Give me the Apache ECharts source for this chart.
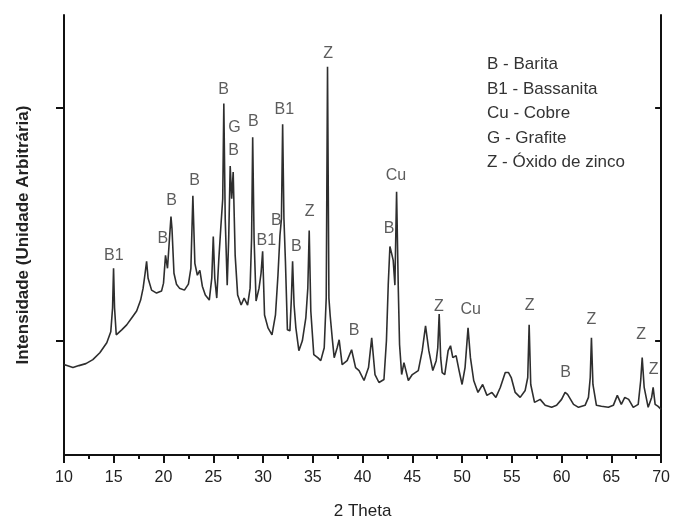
<!DOCTYPE html>
<html>
<head>
	<meta charset="UTF-8">
	<title>DRX</title>
	<script src="https://cdn.jsdelivr.net/npm/echarts@6/dist/echarts.min.js"></script>
	<style>
		html, body { margin: 0; padding: 0; background: #fff; }
	</style>
</head>
<body>
	<div id="chart1" style="width: 673px;height: 525px;"></div>
</body>
</html>
<script type="text/javascript">
	// 2 Theta and intensity (arbitrary units)
	var theta = [
		10.0, 10.3, 10.9, 11.5, 12.2, 12.9, 13.6, 14.3, 14.7, 14.88, 14.98, 15.08, 15.25, 15.8, 16.3, 16.8, 17.3, 17.7, 17.95, 18.15,
		18.3, 18.45, 18.8, 19.3, 19.8, 20.0, 20.2, 20.4, 20.6, 20.75, 20.85, 21.05, 21.3, 21.6, 22.1, 22.5, 22.75, 22.95, 23.15, 23.4,
		23.65, 23.9, 24.2, 24.6, 24.85, 25.0, 25.15, 25.35, 25.55, 25.75, 25.95, 26.06, 26.2, 26.4, 26.55, 26.7, 26.85, 27.0, 27.2, 27.45,
		27.8, 28.1, 28.45, 28.7, 28.85, 28.96, 29.1, 29.3, 29.6, 29.8, 29.96, 30.15, 30.5, 30.9, 31.25, 31.5, 31.7, 31.85, 31.97, 32.1,
		32.25, 32.45, 32.7, 32.85, 32.97, 33.12, 33.3, 33.6, 33.95, 34.3, 34.5, 34.64, 34.8, 35.1, 35.5, 35.8, 36.15, 36.35, 36.48, 36.62,
		36.75, 36.95, 37.15, 37.45, 37.65, 37.95, 38.45, 38.9, 39.3, 39.65, 40.15, 40.6, 40.92, 41.25, 41.65, 42.15, 42.4, 42.58, 42.75, 42.92,
		43.08, 43.25, 43.42, 43.59, 43.72, 43.93, 44.16, 44.6, 45.0, 45.6, 46.0, 46.33, 46.66, 47.06, 47.4, 47.56, 47.7, 47.85, 48.0, 48.26,
		48.6, 48.84, 49.07, 49.4, 49.7, 50.0, 50.3, 50.6, 50.84, 51.17, 51.6, 52.07, 52.5, 53.0, 53.4, 53.84, 54.34, 54.67, 54.94, 55.34,
		55.84, 56.34, 56.6, 56.74, 56.9, 57.28, 57.85, 58.35, 59.0, 59.5, 60.0, 60.35, 60.6, 61.2, 61.7, 62.36, 62.7, 62.88, 63.0, 63.15,
		63.5, 64.0, 64.7, 65.2, 65.6, 66.0, 66.35, 66.74, 67.2, 67.7, 67.95, 68.1, 68.3, 68.7, 69.05, 69.2, 69.4, 69.7, 70.0
	];
	var intensidade = [
		91, 90, 88, 90, 92, 96, 103, 113, 124, 148, 188, 148, 121, 126, 131, 138, 145, 156, 168, 183,
		195, 178, 166, 163, 165, 173, 201, 188, 218, 240, 228, 183, 172, 168, 166, 172, 188, 261, 193, 181,
		186, 170, 161, 156, 178, 220, 178, 158, 196, 228, 258, 354, 238, 171, 218, 291, 258, 285, 201, 161,
		151, 158, 151, 168, 218, 320, 218, 155, 168, 183, 205, 141, 128, 121, 141, 181, 221, 238, 333, 238,
		195, 126, 125, 158, 195, 151, 128, 105, 115, 138, 168, 226, 145, 101, 98, 95, 108, 158, 391, 158,
		140, 118, 98, 108, 116, 91, 95, 106, 88, 85, 75, 88, 118, 81, 73, 76, 115, 171, 210, 203,
		196, 171, 265, 168, 111, 81, 93, 75, 81, 85, 105, 130, 105, 85, 95, 108, 142, 98, 83, 81,
		105, 110, 98, 100, 85, 71, 88, 128, 98, 75, 63, 71, 60, 63, 58, 68, 83, 83, 78, 63,
		58, 65, 78, 131, 71, 53, 56, 50, 48, 50, 56, 63, 61, 51, 48, 50, 58, 78, 118, 71,
		50, 49, 48, 50, 60, 51, 58, 56, 48, 51, 75, 98, 68, 48, 58, 68, 51, 49, 46
	];

	// phase labels: 2 Theta, intensity where the text sits, text
	var rotuloTheta = [15.01, 19.92, 20.82, 23.12, 26.03, 27.13, 27.03, 29.03, 32.14, 31.34, 30.33, 33.34,
		34.69, 36.55, 39.15, 43.36, 42.66, 47.66, 50.87, 56.78, 60.39, 62.99, 67.99, 69.25];
	var rotuloInt = [201, 218, 256, 276, 368, 330, 306, 336, 348, 236, 216, 210,
		245, 404, 125, 281, 228, 149, 146, 150, 83, 136, 121, 86];
	var rotuloTexto = ['B1', 'B', 'B', 'B', 'B', 'G', 'B', 'B', 'B1', 'B', 'B1', 'B',
		'Z', 'Z', 'B', 'Cu', 'B', 'Z', 'Cu', 'Z', 'B', 'Z', 'Z', 'Z'];

	var legenda = ['B - Barita', 'B1 - Bassanita', 'Cu - Cobre', 'G - Grafite', 'Z - Óxido de zinco'];

	var xTicks = [10, 15, 20, 25, 30, 35, 40, 45, 50, 55, 60, 65, 70];
	var yTicks = [115, 350];

	var fonte = '"Liberation Sans", Arial, sans-serif';

	var chart1 = echarts.init(document.getElementById("chart1"));

	var pontos = [];
	for (var i = 0; i < theta.length; i++) {
		pontos.push([theta[i], intensidade[i]]);
	}
	var rotulos = [];
	for (var j = 0; j < rotuloTexto.length; j++) {
		rotulos.push({ value: [rotuloTheta[j], rotuloInt[j]], name: rotuloTexto[j] });
	}

	var eixoX = {
		type: 'value', min: 10, max: 70, interval: 5,
		axisLine: { lineStyle: { color: '#111', width: 2 } },
		splitLine: { show: false },
		minorTick: { show: true, splitNumber: 2, length: 4, lineStyle: { color: '#111', width: 2 } }
	};
	var eixoY = {
		type: 'value', min: 0, max: 443,
		axisLine: { show: true, lineStyle: { color: '#111', width: 2 } },
		splitLine: { show: false },
		axisLabel: { show: false }
	};

	var legendaGraficos = [];
	for (var k = 0; k < legenda.length; k++) {
		legendaGraficos.push({
			type: 'text', left: 487, top: 56 + k * 24.5,
			style: { text: legenda[k], fill: '#333', font: '17px ' + fonte }
		});
	}

	option = {
		animation: false,
		backgroundColor: '#fff',
		grid: { left: 64, right: 10, top: 15, bottom: 67 },
		xAxis: [
			Object.assign({}, eixoX, {
				position: 'bottom',
				name: '2 Theta', nameLocation: 'middle', nameGap: 48,
				nameTextStyle: { fontFamily: fonte, fontSize: 17, color: '#222' },
				axisTick: { inside: false, length: 8, lineStyle: { color: '#111', width: 2 } },
				axisLabel: { fontFamily: fonte, fontSize: 16, color: '#222', margin: 15,
					customValues: xTicks }
			}),
			Object.assign({}, eixoX, {
				position: 'top',
				axisTick: { inside: true, length: 8, lineStyle: { color: '#111', width: 2 } },
				minorTick: { show: true, splitNumber: 2, length: 4, lineStyle: { color: '#111', width: 2 } },
				axisLabel: { show: false }
			})
		],
		yAxis: [
			Object.assign({}, eixoY, {
				position: 'left',
				name: 'Intensidade (Unidade Arbitrária)', nameLocation: 'middle', nameGap: 32,
				nameTextStyle: { fontFamily: fonte, fontSize: 17, fontWeight: 'bold', color: '#222' },
				axisTick: { show: true, inside: false, length: 8, customValues: yTicks,
					lineStyle: { color: '#111', width: 2 } }
			}),
			Object.assign({}, eixoY, {
				position: 'right',
				axisTick: { show: true, inside: true, length: 6, customValues: yTicks,
					lineStyle: { color: '#111', width: 2 } }
			})
		],
		graphic: legendaGraficos,
		series: [
			{
				type: 'line',
				data: pontos,
				showSymbol: false,
				lineStyle: { color: '#2e2e2e', width: 1.6 },
				z: 3
			},
			{
				type: 'scatter',
				data: rotulos,
				symbolSize: 0,
				label: {
					show: true, position: 'inside',
					formatter: function (p) { return p.name; },
					fontFamily: fonte, fontSize: 16, color: '#333'
				},
				z: 4
			}
		]
	};

	chart1.setOption(option);
</script>
